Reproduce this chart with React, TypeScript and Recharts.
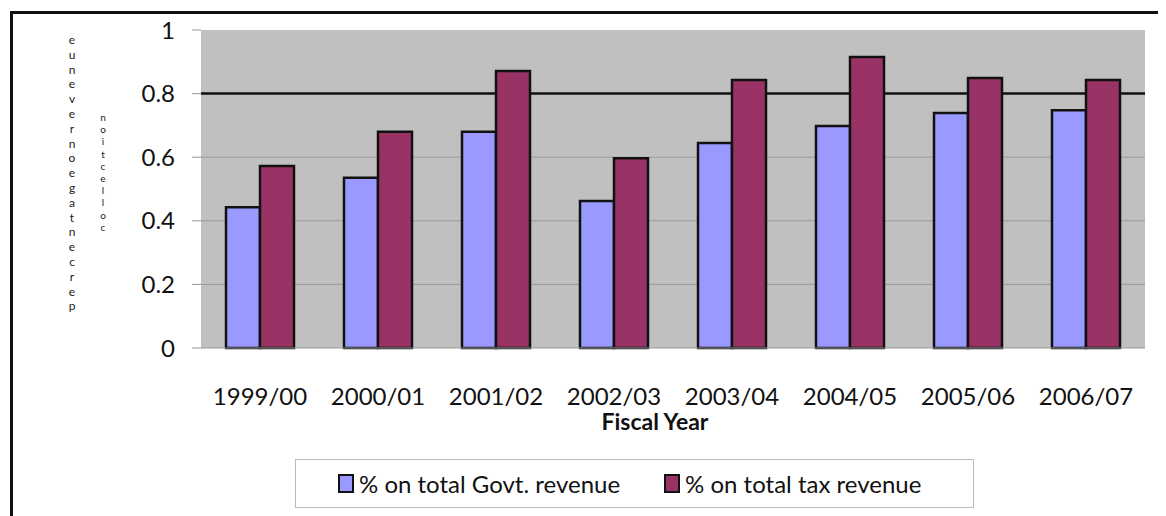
import { Bar, BarChart, CartesianGrid, Legend, XAxis, YAxis } from "recharts";

const years = ["1999/00", "2000/01", "2001/02", "2002/03", "2003/04", "2004/05", "2005/06", "2006/07"];
const govtRevenue = [0.443, 0.535, 0.68, 0.462, 0.645, 0.698, 0.739, 0.748];
const taxRevenue = [0.572, 0.68, 0.871, 0.597, 0.843, 0.915, 0.849, 0.843];
const yTicks = [0, 0.2, 0.4, 0.6, 0.8, 1];

// the y label in the source is rendered as stacked, reversed letters
const yLabelOuter = "eunevernoegatnecrep";
const yLabelInner = "noitcelloc";

const data = years.map((year, i) => ({
    year,
    govt: govtRevenue[i],
    tax: taxRevenue[i],
}));

const FONT = "Lato, 'Open Sans', sans-serif";

function XTick({ x, y, payload }: any) {
    return (
        <text x={x} y={y + 57} textAnchor="middle" fontSize={24} fill="#111" fontFamily={FONT}>
            {payload.value}
        </text>
    );
}

function StackedLabel() {
    return (
        <g fontFamily={FONT} textAnchor="middle">
            {yLabelOuter.split("").map((ch, i) => (
                <text key={`o-${i}`} x={64} y={36 + i * 14.8} fontSize={12} fill="#222" textAnchor="middle">{ch}</text>
            ))}
            {yLabelInner.split("").map((ch, i) => (
                <text key={`i-${i}`} x={95} y={113 + i * 12.2} fontSize={10} fill="#222" textAnchor="middle">{ch}</text>
            ))}
        </g>
    );
}

function LegendBox({ payload }: any) {
    return (
        <div
            style={{
                width: "100%",
                height: "100%",
                boxSizing: "border-box",
                border: "1px solid #bbb",
                display: "flex",
                alignItems: "center",
                paddingLeft: 42,
                fontFamily: FONT,
                fontSize: 24,
                color: "#111",
            }}
        >
            {(payload || []).map((entry: any, i: number) => (
                <div key={i} style={{ display: "flex", alignItems: "center", marginRight: i === 0 ? 44 : 0 }}>
                    <span
                        style={{
                            display: "inline-block",
                            width: 12,
                            height: 15,
                            background: entry.color,
                            border: "2px solid #111",
                            marginRight: 5,
                        }}
                    />
                    <span>{entry.value}</span>
                </div>
            ))}
        </div>
    );
}

export default function App() {
    return (
        <div style={{ position: "relative", width: 1158, height: 508, fontFamily: FONT }}>
            <div
                style={{
                    position: "absolute",
                    left: 2,
                    top: 3,
                    width: 1156,
                    height: 505,
                    borderTop: "3px solid #111",
                    borderLeft: "3px solid #111",
                    boxSizing: "border-box",
                }}
            />
            <BarChart
                width={1158}
                height={508}
                data={data}
                margin={{ top: 22, right: 21, left: 113, bottom: 68 }}
                barGap={0}
                barSize={34}
            >
                <CartesianGrid
                    vertical={false}
                    horizontalValues={[0.2, 0.4, 0.6]}
                    fill="#c0c0c0"
                    fillOpacity={1}
                    stroke="#9a9a9a"
                    strokeWidth={1}
                />
                <CartesianGrid vertical={false} horizontalValues={[0.8]} stroke="#111" strokeWidth={2.5} />
                <XAxis
                    dataKey="year"
                    height={100}
                    tickLine={false}
                    tickSize={0}
                    tickMargin={0}
                    tick={<XTick />}
                    axisLine={{ stroke: "#999" }}
                    interval={0}
                    label={{
                        content: ({ viewBox }: any) => (
                            <text
                                x={viewBox.x + viewBox.width / 2 - 18}
                                y={422}
                                textAnchor="middle"
                                fontSize={23}
                                fontWeight="bold"
                                fill="#111"
                                fontFamily={FONT}
                            >
                                Fiscal Year
                            </text>
                        ),
                    }}
                />
                <YAxis
                    width={80}
                    domain={[0, 1]}
                    ticks={yTicks}
                    interval={0}
                    axisLine={false}
                    tickLine={{ stroke: "#999" }}
                    tickSize={9}
                    tickMargin={17}
                    tick={{ fontSize: 24, fill: "#111", fontFamily: FONT }}
                    label={{ content: () => <StackedLabel /> }}
                />
                <Legend
                    verticalAlign="middle"
                    align="center"
                    layout="horizontal"
                    content={<LegendBox />}
                    wrapperStyle={{ position: "absolute", left: 287, top: 451, width: 679, height: 49 }}
                />
                <Bar dataKey="govt" name="% on total Govt. revenue" fill="#9999ff" stroke="#111" strokeWidth={2.5} isAnimationActive={false} />
                <Bar dataKey="tax" name="% on total tax revenue" fill="#993366" stroke="#111" strokeWidth={2.5} isAnimationActive={false} />
            </BarChart>
        </div>
    );
}
